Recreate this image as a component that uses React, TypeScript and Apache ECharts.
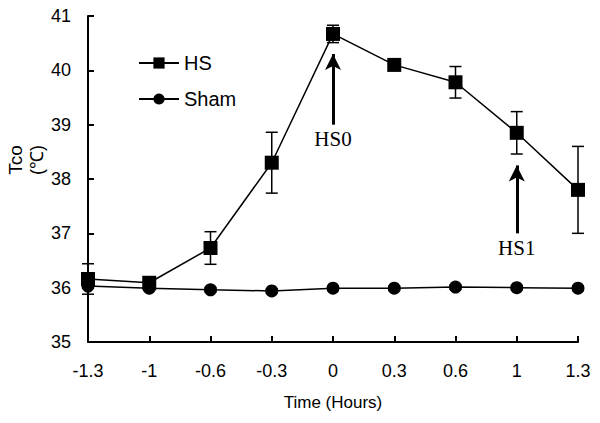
import React, { useEffect, useRef } from "react";
import * as echarts from "echarts";

const categories = ["-1.3", "-1", "-0.6", "-0.3", "0", "0.3", "0.6", "1", "1.3"];
const hsMean = [36.16, 36.09, 36.73, 38.3, 40.67, 40.1, 39.78, 38.85, 37.8];
const hsErr = [0.28, 0.05, 0.3, 0.56, 0.16, 0.08, 0.29, 0.39, 0.8];
const shamMean = [36.03, 35.99, 35.96, 35.94, 35.99, 35.99, 36.01, 36.0, 35.99];
const shamErr = [0.04, 0.04, 0.04, 0.04, 0.04, 0.04, 0.04, 0.04, 0.04];
const yTicks = { min: 35, max: 41, interval: 1 };

const SANS = "Liberation Sans, Arial, sans-serif";
const SERIF = "Liberation Serif, Times New Roman, serif";

function errorSeries(name: string, mean: number[], err: number[]) {
  return {
    name: name + "-err",
    type: "custom",
    silent: true,
    z: 3,
    data: mean.map((m, i) => [i, m - err[i], m + err[i]]),
    renderItem: (params: any, api: any) => {
      const lo = api.coord([api.value(0), api.value(1)]);
      const hi = api.coord([api.value(0), api.value(2)]);
      const w = 6;
      const style = { stroke: "#000", lineWidth: 1.5 };
      return {
        type: "group",
        children: [
          { type: "line", shape: { x1: lo[0], y1: lo[1], x2: hi[0], y2: hi[1] }, style },
          { type: "line", shape: { x1: hi[0] - w, y1: hi[1], x2: hi[0] + w, y2: hi[1] }, style },
          { type: "line", shape: { x1: lo[0] - w, y1: lo[1], x2: lo[0] + w, y2: lo[1] }, style },
        ],
      };
    },
  };
}

export default function App() {
  const ref = useRef<HTMLDivElement>(null);
  useEffect(() => {
    if (!ref.current) return;
    const chart = echarts.init(ref.current, null, { renderer: "svg" });
    const arrowLabel = (text: string) => ({
      show: true,
      position: "start",
      formatter: text,
      fontFamily: SERIF,
      fontSize: 21,
      color: "#000",
      distance: 4,
    });
    chart.setOption({
      animation: false,
      backgroundColor: "#fff",
      grid: { left: 88, right: 22, top: 16, bottom: 81, containLabel: false },
      legend: {
        orient: "vertical",
        left: 133,
        top: 48,
        itemWidth: 40,
        itemHeight: 14,
        itemGap: 16,
        data: ["HS", "Sham"],
        textStyle: { fontFamily: SANS, fontSize: 20, color: "#000" },
      },
      xAxis: {
        type: "category",
        data: categories,
        boundaryGap: false,
        name: "Time (Hours)",
        nameLocation: "middle",
        nameGap: 52,
        nameTextStyle: { fontFamily: SANS, fontSize: 17, color: "#000" },
        axisLine: { lineStyle: { color: "#000", width: 2 } },
        axisTick: { inside: true, length: 6, lineStyle: { color: "#000", width: 2 } },
        axisLabel: { fontFamily: SANS, fontSize: 18, color: "#000", margin: 20 },
        splitLine: { show: false },
      },
      yAxis: {
        type: "value",
        min: yTicks.min,
        max: yTicks.max,
        interval: yTicks.interval,
        axisLine: { show: true, lineStyle: { color: "#000", width: 2 } },
        axisTick: { show: true, inside: true, length: 6, lineStyle: { color: "#000", width: 2 } },
        axisLabel: { fontFamily: SANS, fontSize: 18, color: "#000", margin: 17 },
        splitLine: { show: false },
      },
      graphic: [
        {
          type: "text",
          x: 15,
          y: 160,
          rotation: Math.PI / 2,
          style: { text: "Tco", font: "19px " + SANS, fill: "#000", align: "center", verticalAlign: "middle" },
        },
        {
          type: "text",
          x: 37,
          y: 160,
          rotation: Math.PI / 2,
          style: { text: "(℃)", font: "18px " + SANS, fill: "#000", align: "center", verticalAlign: "middle" },
        },
      ],
      series: [
        errorSeries("HS", hsMean, hsErr),
        errorSeries("Sham", shamMean, shamErr),
        {
          name: "Sham",
          type: "line",
          data: shamMean,
          symbol: "circle",
          symbolSize: 13,
          z: 4,
          itemStyle: { color: "#000" },
          lineStyle: { color: "#000", width: 1.5 },
        },
        {
          name: "HS",
          type: "line",
          data: hsMean,
          symbol: "rect",
          symbolSize: 14,
          z: 5,
          itemStyle: { color: "#000" },
          lineStyle: { color: "#000", width: 1.5 },
          markLine: {
            silent: true,
            symbol: ["none", "arrow"],
            symbolSize: [12, 16],
            lineStyle: { color: "#000", width: 3, type: "solid" },
            data: [
              [
                { coord: ["0", 39.0], label: arrowLabel("HS0") },
                { coord: ["0", 40.3] },
              ],
              [
                { coord: ["1", 37.0], label: arrowLabel("HS1") },
                { coord: ["1", 38.25] },
              ],
            ],
          },
        },
      ],
    });
    return () => chart.dispose();
  }, []);
  return <div ref={ref} style={{ width: 600, height: 423, marginLeft: -8, marginTop: -8 }} />;
}
